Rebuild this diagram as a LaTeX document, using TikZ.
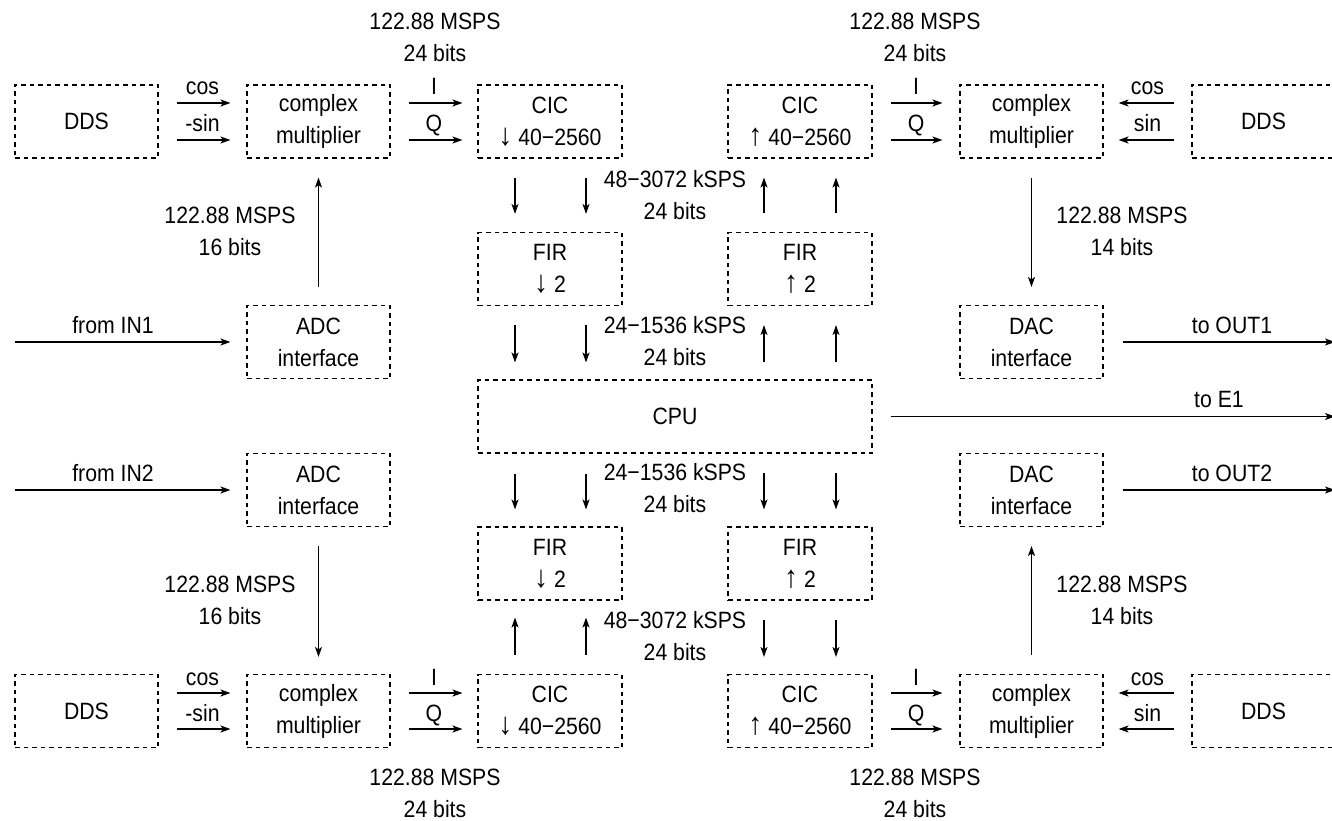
\documentclass[tikz,border=0pt]{standalone}
\usepackage{fontspec}
\setmainfont{Liberation Sans}[FakeStretch=0.9]
\usetikzlibrary{arrows.meta}
\newcommand\labfont{\fontsize{23.6}{32}\selectfont}
\newcommand\dnar{{\fontsize{31}{32}\selectfont ↓}}
\newcommand\upar{{\fontsize{31}{32}\selectfont ↑}}
\begin{document}
\begin{tikzpicture}[x=1pt,y=-1pt,
  box/.style={draw, dash pattern=on 4.5pt off 4pt, line width=1.1pt, minimum width=143pt, minimum height=73pt, inner sep=0pt, align=center, font=\labfont},
  wbox/.style={box, minimum width=144pt},
  arr/.style={-{Stealth[length=10pt,width=7pt,inset=2.5pt]}, line width=1.3pt},
  lab/.style={align=center, inner sep=0pt, font=\labfont},
  al/.style={pos=0.5, anchor=base, yshift=8pt, inner sep=0pt, font=\labfont}]
\useasboundingbox (0,0) rectangle (1332,821);
\fill[white] (0,0) rectangle (1332,821);

% top row
\node[box] (dds1) at (86.5,121.5) {DDS};
\node[box] (cm1) at (318.5,121.5) {complex\\multiplier};
\node[wbox] (cicd1) at (550,121.5) {CIC\\\dnar\ 40−2560};
\node[wbox] (cicu1) at (800,121.5) {CIC\\\upar\ 40−2560};
\node[box] (cm2) at (1031.5,121.5) {complex\\multiplier};
\node[box] (dds2) at (1263.5,121.5) {DDS};
% FIR top
\node[wbox] (fird1) at (550,269) {FIR\\\dnar\ 2};
\node[wbox] (firu1) at (800,269) {FIR\\\upar\ 2};
% middle
\node[box] (adc1) at (318.5,342) {ADC\\interface};
\node[box] (dac1) at (1031.5,342) {DAC\\interface};
\node[box, minimum width=394pt] (cpu) at (675,416.5) {CPU};
\node[box] (adc2) at (318.5,490) {ADC\\interface};
\node[box] (dac2) at (1031.5,490) {DAC\\interface};
% FIR bottom
\node[wbox] (fird2) at (550,563.5) {FIR\\\dnar\ 2};
\node[wbox] (firu2) at (800,563.5) {FIR\\\upar\ 2};
% bottom row
\node[box] (dds3) at (86.5,711) {DDS};
\node[box] (cm3) at (318.5,711) {complex\\multiplier};
\node[wbox] (cicd2) at (550,711) {CIC\\\dnar\ 40−2560};
\node[wbox] (cicu2) at (800,711) {CIC\\\upar\ 40−2560};
\node[box] (cm4) at (1031.5,711) {complex\\multiplier};
\node[box] (dds4) at (1263.5,711) {DDS};

% horizontal pairs, top row
\draw[arr, shorten <=18pt, shorten >=16pt] ([yshift=18.5pt]dds1.east) -- ([yshift=18.5pt]cm1.west) node[al]{cos};
\draw[arr, shorten <=18pt, shorten >=16pt] ([yshift=-18.5pt]dds1.east) -- ([yshift=-18.5pt]cm1.west) node[al]{-sin};
\draw[arr, shorten <=18pt, shorten >=15pt] ([yshift=18.5pt]cm1.east) -- ([yshift=18.5pt]cicd1.west) node[al]{I};
\draw[arr, shorten <=18pt, shorten >=15pt] ([yshift=-18.5pt]cm1.east) -- ([yshift=-18.5pt]cicd1.west) node[al]{Q};
\draw[arr, shorten <=18pt, shorten >=17pt] ([yshift=18.5pt]cicu1.east) -- ([yshift=18.5pt]cm2.west) node[al]{I};
\draw[arr, shorten <=18pt, shorten >=17pt] ([yshift=-18.5pt]cicu1.east) -- ([yshift=-18.5pt]cm2.west) node[al]{Q};
\draw[arr, shorten <=17pt, shorten >=15pt] ([yshift=18.5pt]dds2.west) -- ([yshift=18.5pt]cm2.east) node[al]{cos};
\draw[arr, shorten <=17pt, shorten >=15pt] ([yshift=-18.5pt]dds2.west) -- ([yshift=-18.5pt]cm2.east) node[al]{sin};

% horizontal pairs, bottom row
\draw[arr, shorten <=18pt, shorten >=16pt] ([yshift=18pt]dds3.east) -- ([yshift=18pt]cm3.west) node[al]{cos};
\draw[arr, shorten <=18pt, shorten >=16pt] ([yshift=-18pt]dds3.east) -- ([yshift=-18pt]cm3.west) node[al]{-sin};
\draw[arr, shorten <=18pt, shorten >=15pt] ([yshift=18pt]cm3.east) -- ([yshift=18pt]cicd2.west) node[al]{I};
\draw[arr, shorten <=18pt, shorten >=15pt] ([yshift=-18pt]cm3.east) -- ([yshift=-18pt]cicd2.west) node[al]{Q};
\draw[arr, shorten <=18pt, shorten >=17pt] ([yshift=18pt]cicu2.east) -- ([yshift=18pt]cm4.west) node[al]{I};
\draw[arr, shorten <=18pt, shorten >=17pt] ([yshift=-18pt]cicu2.east) -- ([yshift=-18pt]cm4.west) node[al]{Q};
\draw[arr, shorten <=17pt, shorten >=15pt] ([yshift=18pt]dds4.west) -- ([yshift=18pt]cm4.east) node[al]{cos};
\draw[arr, shorten <=17pt, shorten >=15pt] ([yshift=-18pt]dds4.west) -- ([yshift=-18pt]cm4.east) node[al]{sin};

% vertical ADC/DAC arrows
\draw[arr, shorten <=18pt, shorten >=19pt] (adc1.north) -- (cm1.south);
\draw[arr, shorten <=19pt, shorten >=18pt] (cm2.south) -- (dac1.north);
\draw[arr, shorten <=19pt, shorten >=17pt] (adc2.south) -- (cm3.north);
\draw[arr, shorten <=19pt, shorten >=19pt] (cm4.north) -- (dac2.south);

% CIC/FIR/CPU arrows
\foreach \dx in {-35,36}{
  \draw[arr, shorten <=19pt, shorten >=18pt] ([xshift=\dx pt]cicd1.south) -- ([xshift=\dx pt]fird1.north);
  \draw[arr, shorten <=19pt, shorten >=17pt] ([xshift=\dx pt]fird1.south) -- ([xshift=\dx pt]fird1.south |- cpu.north);
  \draw[arr, shorten <=20pt, shorten >=17pt] ([xshift=\dx pt]fird2.north |- cpu.south) -- ([xshift=\dx pt]fird2.north) ;
  \draw[arr, shorten <=19pt, shorten >=17pt] ([xshift=\dx pt]cicd2.north) -- ([xshift=\dx pt]fird2.south);
}
\foreach \dx in {-36,36}{
  \draw[arr, shorten <=19pt, shorten >=19pt] ([xshift=\dx pt]firu1.north) -- ([xshift=\dx pt]cicu1.south);
  \draw[arr, shorten <=17pt, shorten >=19pt] ([xshift=\dx pt]firu1.south |- cpu.north) -- ([xshift=\dx pt]firu1.south);
  \draw[arr, shorten <=19pt, shorten >=17pt] ([xshift=\dx pt]cpu.south -| firu2.north) -- ([xshift=\dx pt]firu2.north);
  \draw[arr, shorten <=19pt, shorten >=17pt] ([xshift=\dx pt]firu2.south) -- ([xshift=\dx pt]cicu2.north);
}

% inputs and outputs
\coordinate (in1) at (15,342);
\coordinate (in2) at (15,490);
\coordinate (out1) at (1335,342);
\coordinate (out2) at (1335,490);
\coordinate (e1) at (1335,416.5);
\draw[arr, shorten >=16pt] (in1) -- (adc1.west);
\draw[arr, shorten >=16pt] (in2) -- (adc2.west);
\draw[arr, shorten <=19pt] (dac1.east) -- (out1);
\draw[arr, shorten <=19pt] (dac2.east) -- (out2);
\draw[arr, shorten <=18pt] (cpu.east) -- (e1);
\node[lab, anchor=base] (lin1) at (113,333) {from IN1};
\node[lab, anchor=base] (lin2) at (113,481) {from IN2};
\node[lab, anchor=base] (lout1) at (1232,333) {to OUT1};
\node[lab, anchor=base] (lout2) at (1232,481) {to OUT2};
\node[lab, anchor=base] (le1) at (1219,407) {to E1};

% rate labels
\node[lab] (r1) at (435,37) {122.88 MSPS\\24 bits};
\node[lab] (r2) at (915,37) {122.88 MSPS\\24 bits};
\node[lab] (r3) at (435,793) {122.88 MSPS\\24 bits};
\node[lab] (r4) at (915,793) {122.88 MSPS\\24 bits};
\node[lab] (r5) at (230,231) {122.88 MSPS\\16 bits};
\node[lab] (r6) at (230,600) {122.88 MSPS\\16 bits};
\node[lab] (r7) at (1122,231) {122.88 MSPS\\14 bits};
\node[lab] (r8) at (1122,600) {122.88 MSPS\\14 bits};
\node[lab] (r9) at (675,195) {48−3072 kSPS\\24 bits};
\node[lab] (r10) at (675,341) {24−1536 kSPS\\24 bits};
\node[lab] (r11) at (675,488) {24−1536 kSPS\\24 bits};
\node[lab] (r12) at (675,636) {48−3072 kSPS\\24 bits};
\end{tikzpicture}
\end{document}
